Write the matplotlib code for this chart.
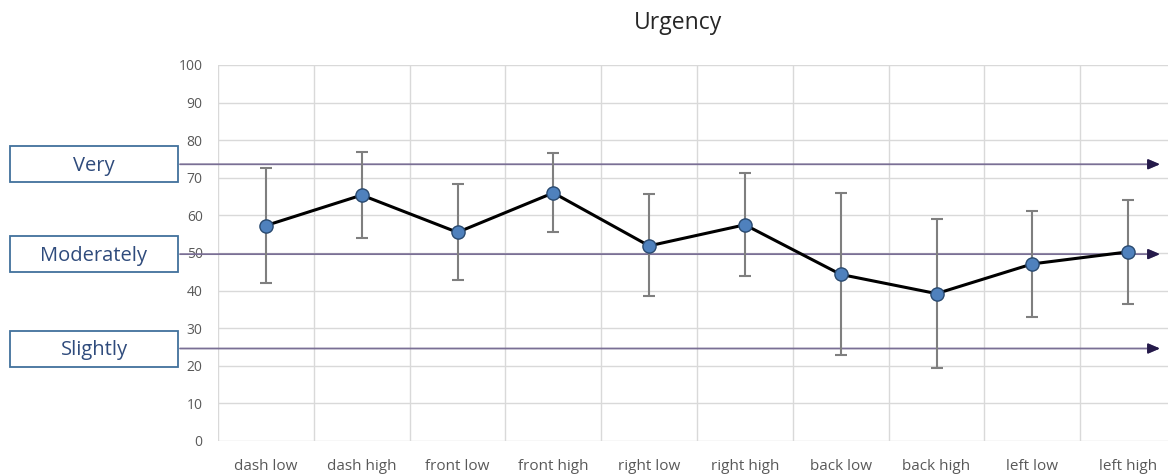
import matplotlib
matplotlib.use("Agg")
import matplotlib.pyplot as plt

categories = ["dash low", "dash high", "front low", "front high", "right low",
              "right high", "back low", "back high", "left low", "left high"]
means = [57.3, 65.4, 55.5, 66.0, 51.9, 57.5, 44.3, 39.2, 47.1, 50.3]
upper = [72.6, 76.8, 68.4, 76.6, 65.7, 71.3, 66.0, 59.0, 61.2, 64.0]
lower = [41.9, 54.1, 42.7, 55.7, 38.6, 43.9, 22.8, 19.3, 33.1, 36.5]

level_names = ["Very", "Moderately", "Slightly"]
level_values = [73.6, 49.7, 24.6]

W, H = 1168, 474
fig = plt.figure(figsize=(W / 100, H / 100), dpi=100)
ax = fig.add_axes([218 / W, 33 / H, (1176 - 218) / W, (441 - 65) / H])

x = list(range(len(categories)))
err_lo = [m - l for m, l in zip(means, lower)]
err_hi = [u - m for m, u in zip(means, upper)]

ax.errorbar(x, means, yerr=[err_lo, err_hi], fmt="none", ecolor="#7f7f7f",
            elinewidth=1.5, capsize=4, capthick=1.5, zorder=3)
ax.plot(x, means, color="black", lw=2.2, zorder=4)
ax.plot(x, means, "o", ms=9.5, mfc="#4f81bd", mec="#2a4a70", mew=1.0, zorder=5)

ax.set_xlim(-0.5, len(categories) - 0.5)
ax.set_ylim(0, 100)
ax.set_yticks(range(0, 101, 10))
ax.set_xticks(x)
ax.set_xticklabels(categories)
ax.set_xticks([i - 0.5 for i in range(len(categories) + 1)], minor=True)

ax.grid(axis="y", which="major", color="#d9d9d9", lw=1)
ax.grid(axis="x", which="minor", color="#d9d9d9", lw=1)
ax.grid(axis="x", which="major", visible=False)
ax.set_axisbelow(True)
for s in ax.spines.values():
    s.set_visible(False)
ax.tick_params(axis="both", which="both", length=0)
ax.tick_params(axis="y", pad=11, labelcolor="#595959")
ax.tick_params(axis="x", pad=13, labelcolor="#595959")
for lab in ax.get_yticklabels():
    lab.set_fontfamily("Open Sans")
    lab.set_fontsize(10)
for lab in ax.get_xticklabels():
    lab.set_fontfamily("Open Sans")
    lab.set_fontsize(11)

# Level reference arrows with labelled boxes
for name, val in zip(level_names, level_values):
    ax.annotate("", xy=(1160 / W, val), xytext=(180 / W, val),
                xycoords=("figure fraction", "data"),
                textcoords=("figure fraction", "data"),
                arrowprops=dict(arrowstyle="-|>,head_length=0.7,head_width=0.3",
                                color="#7a6f95", lw=1.3, shrinkA=0, shrinkB=0),
                annotation_clip=False, zorder=2)
    ax.annotate("", xy=(1160 / W, val), xytext=(1150 / W, val),
                xycoords=("figure fraction", "data"),
                textcoords=("figure fraction", "data"),
                arrowprops=dict(arrowstyle="-|>,head_length=0.7,head_width=0.3",
                                color="#251a4a", lw=1.3, shrinkA=0, shrinkB=0),
                annotation_clip=False, zorder=2)
    y_fig = fig.transFigure.inverted().transform(ax.transData.transform((0, val)))[1]
    box = plt.Rectangle((10 / W, y_fig - 18 / H), 168 / W, 36 / H,
                        transform=fig.transFigure, facecolor="white",
                        edgecolor="#41719c", lw=1.3, zorder=6)
    fig.add_artist(box)
    fig.text(94 / W, y_fig - 1.5 / H, name, ha="center", va="center", fontsize=14.5,
             color="#2f4b7c", fontfamily="Open Sans", zorder=7)

fig.text(678 / W, 1 - 23 / H, "Urgency", ha="center", va="center",
         fontsize=16.5, color="#262626", fontfamily="Open Sans")

fig.savefig("out.png", dpi=100)
